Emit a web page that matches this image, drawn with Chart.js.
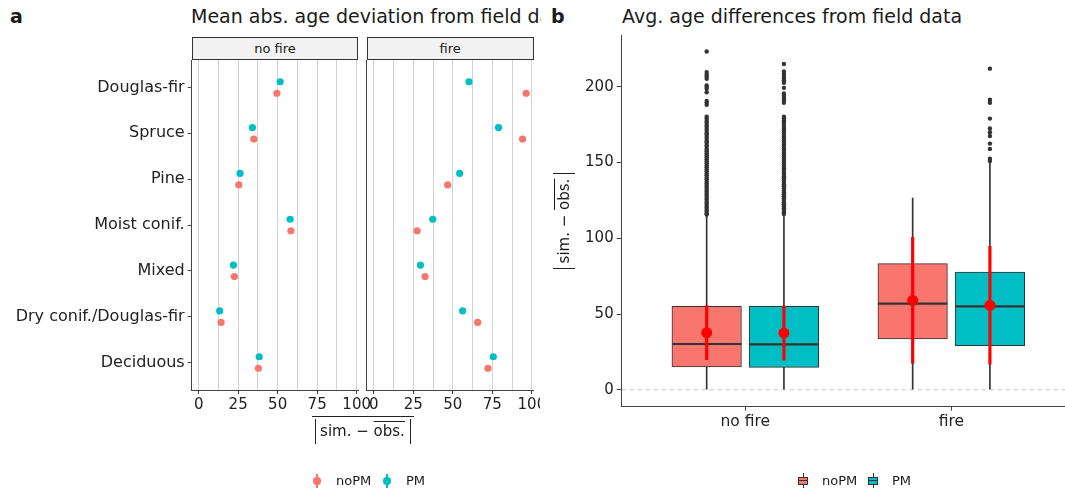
<!DOCTYPE html>
<html>
<head>
<meta charset="utf-8">
<script src="https://cdn.jsdelivr.net/npm/chart.js@4.4.1/dist/chart.umd.min.js"></script>
<style>
	body { margin: 0; background: #fff; font-family: "DejaVu Sans", sans-serif; color: #1a1a1a; }
	#page { position: relative; width: 1065px; height: 491px; overflow: hidden; background: #fff; }
	canvas { position: absolute; }
	.tag { position: absolute; top: 5px; font-size: 19px; font-weight: bold; line-height: 22px; }
	.title { position: absolute; top: 5px; font-size: 19px; line-height: 22px; white-space: nowrap; overflow: hidden; }
	.strip { position: absolute; top: 37px; height: 23px; box-sizing: border-box; border: 1px solid #333;
		background: #f2f2f2; font-size: 13px; line-height: 21px; text-align: center; }
	.ovl { text-decoration: overline; }
	.leg { position: absolute; font-size: 13px; line-height: 16px; }
</style>
</head>
<body>
<div id="page">
	<div class="tag" style="left:10px">a</div>
	<div class="title" style="left:191px; width:350px">Mean abs. age deviation from field data</div>
	<div class="tag" style="left:551px">b</div>
	<div class="title" style="left:622px">Avg. age differences from field data</div>

	<div class="strip" id="strip0" style="left:191.7px; width:166.7px"></div>
	<div class="strip" id="strip1" style="left:366.9px; width:166.7px"></div>

	<canvas id="facetNoFire" width="380" height="370" style="left:0; top:60px"></canvas>
	<canvas id="facetFire" width="178" height="370" style="left:362px; top:60px"></canvas>
	<canvas id="boxChart" width="495" height="405" style="left:570px; top:25px"></canvas>

	<!-- x title of panel a: overline(|sim. - overline(obs.)|) -->
	<div style="position:absolute; left:311.5px; top:416px; width:102px; height:28px; border-top:1px solid #222">
		<div style="position:absolute; left:3px; right:3px; top:2px; height:25px; border-left:1px solid #222;
			border-right:1px solid #222; text-align:center; font-size:15px; line-height:25px">sim. &minus; <span class="ovl">obs.</span></div>
	</div>

	<!-- y title of panel b -->
	<div style="position:absolute; left:516px; top:210px; width:96px; height:22px; transform:rotate(-90deg);
		box-sizing:border-box; border-left:1px solid #222; border-right:1px solid #222; text-align:center;
		font-size:15px; line-height:22px">sim. &minus; <span class="ovl">obs.</span></div>

	<div id="legendA"></div>
	<div id="legendB"></div>
</div>

<script>
Chart.defaults.font.family = '"DejaVu Sans", sans-serif';

// mean absolute deviation per forest type
const species = ["Douglas-fir", "Spruce", "Pine", "Moist conif.", "Mixed", "Dry conif./Douglas-fir", "Deciduous"];
const facets = ["no fire", "fire"];
const noFireNoPM = [49.5, 34.9, 25.4, 58.4, 22.6, 14.2, 37.8];
const noFirePM = [51.6, 34.0, 26.2, 57.9, 22.0, 13.3, 38.3];
const fireNoPM = [96.4, 94.1, 46.7, 27.4, 32.4, 65.7, 72.2];
const firePM = [60.2, 78.9, 54.3, 37.3, 29.5, 56.2, 75.6];
const devTicks = [0, 25, 50, 75, 100];
const devGrid = [0, 12.5, 25, 37.5, 50, 62.5, 75, 87.5, 100];

// box plot stats per group (no fire, fire)
const groups = ["no fire", "fire"];
const q1NoPM = [15.0, 33.5];
const medianNoPM = [30.2, 56.8];
const q3NoPM = [55.0, 83.3];
const whiskerLoNoPM = [0, 0];
const whiskerHiNoPM = [115.5, 126.6];
const meanNoPM = [37.7, 59.0];
const sdNoPM = [17.8, 41.7];

const q1PM = [14.8, 29.1];
const medianPM = [30.0, 55.0];
const q3PM = [55.0, 77.7];
const whiskerLoPM = [0, 0];
const whiskerHiPM = [115.5, 150.0];
const meanPM = [37.4, 55.7];
const sdPM = [17.9, 38.9];

const outNoFireNoPM = [223.3, 209.7, 208.2, 206.8, 205.3, 200.9, 199.8, 198.7, 196.4, 190.7, 189.4, 188.1,
	180.2, 178.9, 177.5, 176.3, 174.8, 173.6, 172.1, 170.9, 169.4, 168.2, 166.8, 165.5, 164.1, 162.9, 161.4,
	160.2, 158.8, 157.5, 156.1, 154.8, 153.5, 152.2, 150.8, 149.6, 148.1, 146.9, 145.5, 144.2, 142.8, 141.6,
	140.1, 138.9, 137.5, 136.2, 134.8, 133.6, 132.1, 130.9, 129.5, 128.2, 126.8, 125.6, 124.1, 122.9, 121.5,
	120.2, 118.8, 117.6, 116.2, 115.7];
const outNoFirePM = [215.1, 210.1, 208.6, 207.1, 205.6, 204.1, 202.6, 199.3, 195.6, 194.1, 192.6, 191.1, 189.4,
	180.2, 179.0, 177.7, 176.4, 175.0, 173.7, 172.5, 171.1, 169.8, 168.4, 167.2, 165.9, 164.5, 163.2, 161.9,
	160.6, 159.2, 157.9, 156.7, 155.3, 154.0, 152.6, 151.4, 150.1, 148.7, 147.4, 146.2, 144.8, 143.5, 142.1,
	140.9, 139.6, 138.2, 136.9, 135.7, 134.3, 133.0, 131.6, 130.4, 129.1, 127.7, 126.4, 125.2, 123.8, 122.5,
	121.1, 119.9, 118.6, 117.2, 116.0];
const outFireNoPM = [];
const outFirePM = [212.0, 191.5, 189.5, 179.0, 172.5, 170.0, 167.5, 162.5, 159.0, 152.5, 151.0];
const diffTicks = [0, 50, 100, 150, 200];

const RED = "#F8766D";
const TEAL = "#00BFC4";
const INK = "#222";
const AXIS = "#444";

document.getElementById("strip0").textContent = facets[0];
document.getElementById("strip1").textContent = facets[1];

// keep axis boxes at a fixed size so the plot areas line up
function pinAxis(size) {
	return s => {
		if (s.isHorizontal()) s.height = size;
		else s.width = size;
		s.paddingLeft = s.paddingRight = s.paddingTop = s.paddingBottom = 0;
	};
}

function facetChart(id, noPM, pm, showLabels, yWidth, padRight) {
	const dodge = 0.125;
	return new Chart(document.getElementById(id), {
		type: "scatter",
		data: {
			datasets: [{
				label: "noPM",
				data: noPM.map((v, i) => ({ x: v, y: i + dodge })),
				backgroundColor: RED,
				borderWidth: 0,
				pointRadius: 3.6,
			}, {
				label: "PM",
				data: pm.map((v, i) => ({ x: v, y: i - dodge })),
				backgroundColor: TEAL,
				borderWidth: 0,
				pointRadius: 3.6,
			}],
		},
		options: {
			responsive: false,
			animation: false,
			events: [],
			layout: { padding: { left: 0, right: padRight, top: 0, bottom: 0 }, autoPadding: false },
			plugins: { legend: { display: false }, tooltip: { enabled: false } },
			scales: {
				x: {
					type: "linear",
					min: -4.4,
					max: 101.1,
					afterBuildTicks: s => { s.ticks = devGrid.map(v => ({ value: v })); },
					afterFit: pinAxis(40),
					grid: {
						color: "#d2d2d2",
						lineWidth: 1,
						tickLength: 4,
						tickColor: c => devTicks.includes(c.tick.value) ? AXIS : "rgba(0,0,0,0)",
					},
					border: { color: AXIS, width: 1 },
					ticks: {
						autoSkip: false,
						maxRotation: 0,
						padding: 2,
						color: INK,
						font: { size: 15 },
						callback: v => devTicks.includes(v) ? String(v) : "",
					},
				},
				y: {
					type: "linear",
					reverse: true,
					min: -0.6,
					max: species.length - 0.4,
					afterBuildTicks: s => { s.ticks = species.map((_, i) => ({ value: i })); },
					afterFit: pinAxis(yWidth),
					grid: { drawOnChartArea: false, drawTicks: showLabels, tickLength: 4, tickColor: AXIS },
					border: { color: AXIS, width: 1 },
					ticks: {
						display: showLabels,
						padding: 3,
						color: INK,
						font: { size: 16 },
						callback: v => species[v],
					},
				},
			},
		},
	});
}

facetChart("facetNoFire", noFireNoPM, noFirePM, true, 191.7, 21.6);
facetChart("facetFire", fireNoPM, firePM, false, 4.9, 6.4);

// panel b: boxes dodged around each group position
const off = 0.1875;
const xNo = groups.map((g, i) => i - off);
const xPm = groups.map((g, i) => i + off);
const outliers = (xs, lists) => lists.flatMap((list, i) => list.map(v => ({ x: xs[i], y: v })));

const barBase = { type: "bar", grouped: false, borderSkipped: false };

new Chart(document.getElementById("boxChart"), {
	type: "scatter",
	data: {
		datasets: [{
			type: "line",
			data: [{ x: -0.6, y: 0 }, { x: 1.6, y: 0 }],
			borderColor: "#c4c4c4",
			borderWidth: 1,
			borderDash: [4, 4],
			pointRadius: 0,
			order: 10,
		}, {
			...barBase,
			data: xNo.map((x, i) => ({ x, y: [whiskerLoNoPM[i], whiskerHiNoPM[i]] })),
			backgroundColor: "#333",
			barThickness: 1,
			order: 9,
		}, {
			...barBase,
			data: xPm.map((x, i) => ({ x, y: [whiskerLoPM[i], whiskerHiPM[i]] })),
			backgroundColor: "#333",
			barThickness: 1,
			order: 9,
		}, {
			...barBase,
			label: "noPM",
			data: xNo.map((x, i) => ({ x, y: [q1NoPM[i], q3NoPM[i]] })),
			backgroundColor: RED,
			borderColor: "#333",
			borderWidth: 1,
			barThickness: 69.5,
			order: 8,
		}, {
			...barBase,
			label: "PM",
			data: xPm.map((x, i) => ({ x, y: [q1PM[i], q3PM[i]] })),
			backgroundColor: TEAL,
			borderColor: "#333",
			borderWidth: 1,
			barThickness: 69.5,
			order: 8,
		}, {
			data: xNo.map((x, i) => ({ x, y: medianNoPM[i] })).concat(xPm.map((x, i) => ({ x, y: medianPM[i] }))),
			pointStyle: "line",
			pointRadius: 34.75,
			borderColor: "#333",
			borderWidth: 2.2,
			order: 7,
		}, {
			data: outliers(xNo, [outNoFireNoPM, outFireNoPM]).concat(outliers(xPm, [outNoFirePM, outFirePM])),
			backgroundColor: "#333",
			borderWidth: 0,
			pointRadius: 2.2,
			order: 6,
		}, {
			...barBase,
			data: xNo.map((x, i) => ({ x, y: [meanNoPM[i] - sdNoPM[i], meanNoPM[i] + sdNoPM[i]] }))
				.concat(xPm.map((x, i) => ({ x, y: [meanPM[i] - sdPM[i], meanPM[i] + sdPM[i]] }))),
			backgroundColor: "#ff0000",
			barThickness: 2.5,
			order: 3,
		}, {
			data: xNo.map((x, i) => ({ x, y: meanNoPM[i] })).concat(xPm.map((x, i) => ({ x, y: meanPM[i] }))),
			backgroundColor: "#ff0000",
			borderWidth: 0,
			pointRadius: 5.5,
			order: 2,
		}],
	},
	options: {
		responsive: false,
		animation: false,
		events: [],
		layout: { padding: { left: 0, right: 0, top: 10, bottom: 0 }, autoPadding: false },
		plugins: { legend: { display: false }, tooltip: { enabled: false } },
		scales: {
			x: {
				type: "linear",
				offset: false,
				min: -0.6,
				max: 1.552,
				afterBuildTicks: s => { s.ticks = groups.map((_, i) => ({ value: i })); },
				afterFit: pinAxis(23.3),
				grid: { offset: false, drawOnChartArea: false, tickLength: 4, tickColor: AXIS },
				border: { color: AXIS, width: 1 },
				ticks: { padding: 2, color: INK, font: { size: 15.5 }, callback: v => groups[v] },
			},
			y: {
				type: "linear",
				min: -11.2,
				max: 234.2,
				afterBuildTicks: s => { s.ticks = diffTicks.map(v => ({ value: v })); },
				afterFit: pinAxis(51.7),
				grid: { drawOnChartArea: false, tickLength: 5, tickColor: AXIS },
				border: { color: AXIS, width: 1 },
				ticks: { padding: 3, color: INK, font: { size: 15 } },
			},
		},
	},
});

// legends under each panel
function legend(el, left, glyph) {
	const host = document.getElementById(el);
	const items = [["noPM", RED], ["PM", TEAL]];
	let x = left;
	items.forEach(([name, col]) => {
		host.insertAdjacentHTML("beforeend", glyph(x, col) +
			`<div class="leg" style="left:${x + 19}px; top:473px">${name}</div>`);
		x += name === "noPM" ? 70 : 0;
	});
}

legend("legendA", 317, (x, col) =>
	`<div style="position:absolute; left:${x - 0.75}px; top:474px; width:1.5px; height:14px; background:${col}"></div>` +
	`<div style="position:absolute; left:${x - 3.7}px; top:477.3px; width:7.4px; height:7.4px; border-radius:50%; background:${col}"></div>`);

legend("legendB", 803, (x, col) =>
	`<div style="position:absolute; left:${x - 0.5}px; top:473px; width:1px; height:15px; background:#333"></div>` +
	`<div style="position:absolute; left:${x - 5}px; top:476.5px; width:10px; height:8px; box-sizing:border-box; border:1px solid #333; background:${col}"></div>` +
	`<div style="position:absolute; left:${x - 5}px; top:480px; width:10px; height:1.2px; background:#333"></div>`);
</script>
</body>
</html>
